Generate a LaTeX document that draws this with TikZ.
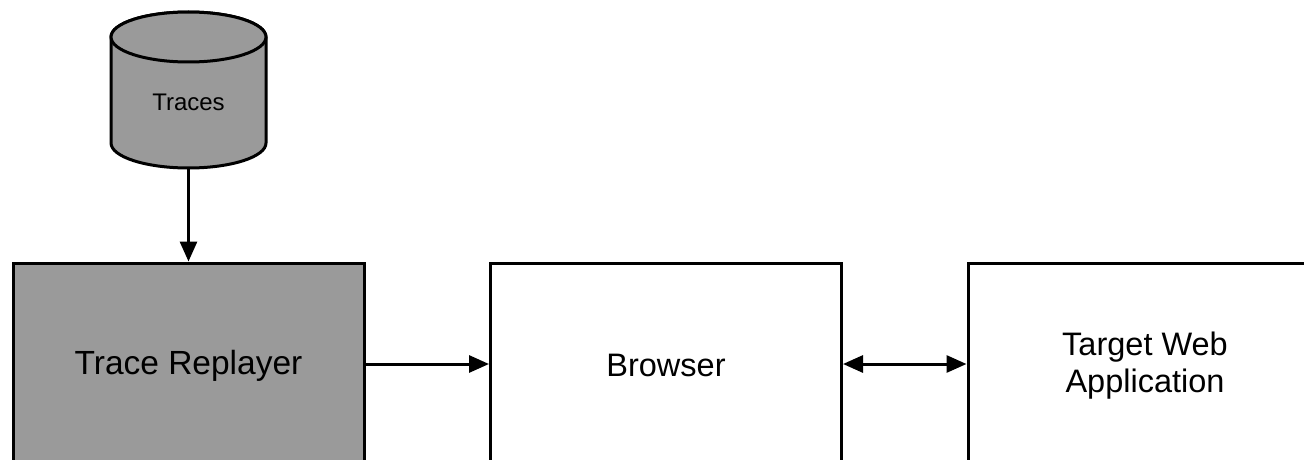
\documentclass[tikz,border=0pt]{standalone}
\usepackage{fontspec}
\setmainfont{Liberation Sans}
\usetikzlibrary{arrows.meta}
\definecolor{fillgray}{RGB}{154,154,154}
\begin{document}
\begin{tikzpicture}[x=1pt,y=-1pt,
  box/.style={draw=black, line width=3pt, minimum width=351pt, minimum height=202pt,
    inner sep=0pt, font=\fontsize{32.5}{37}\selectfont, align=center},
  conn/.style={line width=3pt, -{Triangle[length=20pt,width=17pt]}},
  dconn/.style={line width=3pt, {Triangle[length=20pt,width=17pt]}-{Triangle[length=20pt,width=17pt]}},
  cyl/.style={draw=black, line width=3pt, fill=fillgray}]
\useasboundingbox (0,0) rectangle (1304,460);
\clip (0,0) rectangle (1304,460);
% cylinder
\path[cyl] (111,37) -- (111,143) arc[start angle=180, end angle=0, x radius=77.5, y radius=25]
  -- (266,37) arc[start angle=0, end angle=-180, x radius=77.5, y radius=25] -- cycle;
\path[cyl] (188.5,37) ellipse[x radius=77.5, y radius=25];
\node[font=\fontsize{24}{27}\selectfont] (traces) at (188.5,102) {Traces};
\coordinate (cylbot) at (188.5,168);
% boxes
\node[box, fill=fillgray] (tr) at (188.5,364) {};
\node[font=\fontsize{33.5}{37}\selectfont] (trlabel) at (188.5,366) {Trace Replayer};
\node[box, fill=white] (br) at (666,364) {};
\node[font=\fontsize{32.5}{37}\selectfont] (brlabel) at (666,365) {Browser};
\node[box, fill=white, minimum width=352pt] (tw) at (1144,364) {};
\node[font=\fontsize{32.5}{37}\selectfont, align=center] (twlabel) at (1145,366) {Target Web\\Application};
% connectors
\draw[conn] (cylbot) -- (tr.north);
\draw[conn] (tr.east) -- (br.west);
\draw[dconn] (br.east) -- (tw.west);
\end{tikzpicture}
\end{document}
